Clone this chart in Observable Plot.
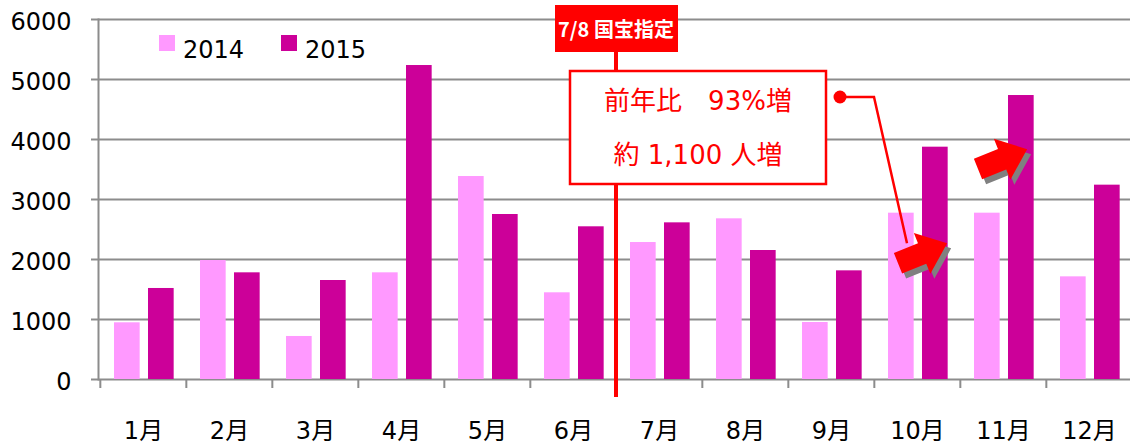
<!DOCTYPE html>
<html><head><meta charset="utf-8">
<script src="https://cdn.jsdelivr.net/npm/d3@7"></script>
<script src="https://cdn.jsdelivr.net/npm/@observablehq/plot@0.6"></script>
<style>
body{margin:0;background:#fff;}
#wrap{width:1130px;height:444px;}
</style></head><body><div id="wrap"></div>
<script>
// ---- data ----
const months = ["1月","2月","3月","4月","5月","6月","7月","8月","9月","10月","11月","12月"];
const seriesNames = ["2014","2015"];
const values2014 = [945,1983,717,1778,3383,1445,2283,2678,950,2772,2772,1711];
const values2015 = [1517,1778,1650,5233,2750,2545,2611,2150,1811,3872,4733,3239];
const yTicks = [0,1000,2000,3000,4000,5000,6000];
const colors = ["#ff99ff","#cc0099"];
const markerMonth = "7月";
const markerLabel = "7/8 国宝指定";
const noteLines = ["前年比\u300093%増","約 1,100 人増"];
const arrowMonths = ["10月","11月"];
const arrowValues = [1930,3500];
const arrowDx = [24,18];

// ---- build ----
const font = '"DejaVu Sans","Noto Sans CJK JP",sans-serif';
const rows2014 = months.map((m,i)=>({month:m, value:values2014[i]}));
const rows2015 = months.map((m,i)=>({month:m, value:values2015[i]}));
const xRange = [98,1134];
const step = (xRange[1]-xRange[0])/months.length;
const grid = "#8c8c8c";

const plot = Plot.plot({
  width:1130, height:444,
  marginTop:19, marginBottom:65, marginLeft:98, marginRight:0,
  style:{fontFamily:font, fontSize:"24px", color:"black", background:"white", overflow:"visible"},
  x:{type:"band", domain:months, range:xRange, padding:0, label:null},
  y:{domain:[0,6000], label:null},
  marks:[
    Plot.ruleY(yTicks,{stroke:grid, strokeWidth:2}),
    Plot.barY(rows2014,{x:"month", y:"value", fill:colors[0], insetLeft:14, insetRight:step-40}),
    Plot.barY(rows2015,{x:"month", y:"value", fill:colors[1], insetLeft:48, insetRight:step-74}),
    Plot.frame({anchor:"left", stroke:grid, strokeWidth:2}),
    Plot.axisY(yTicks,{tickSize:7, tickFormat:()=>"", stroke:grid, strokeWidth:2, label:null}),
    Plot.axisY(yTicks,{tickSize:0, tickPadding:27, dy:3, fontSize:24, fill:"black", tickFormat:d=>String(d), label:null}),
    Plot.axisX({tickSize:9, tickFormat:()=>"", stroke:grid, strokeWidth:2, dx:-step/2, label:null}),
    Plot.axisX({tickSize:0, tickPadding:42, fontSize:24, fill:"black", label:null})
  ]
});
document.getElementById("wrap").appendChild(plot);

const xs = plot.scale("x"), ys = plot.scale("y");
const svg = d3.select(plot);
const g = svg.append("g").attr("font-family", font).attr("text-anchor","start");

// legend
seriesNames.forEach((s,i)=>{
  const lx = [159,281][i];
  g.append("rect").attr("x",lx).attr("y",35).attr("width",16).attr("height",16).attr("fill",colors[i]);
  g.append("text").attr("x",lx+24).attr("y",58).attr("text-anchor","start").attr("font-size",24).attr("fill","black").text(s);
});

// marker line
const lineX = xs.apply(markerMonth);
g.append("line").attr("x1",lineX).attr("x2",lineX).attr("y1",20).attr("y2",397)
  .attr("stroke","#ff0000").attr("stroke-width",4);
g.append("rect").attr("x",lineX-61).attr("y",5).attr("width",123).attr("height",47).attr("fill","#ff0000");
g.append("text").attr("x",lineX).attr("y",37).attr("text-anchor","middle")
  .attr("font-family",'"Noto Sans CJK JP",sans-serif').attr("font-weight","bold")
  .attr("font-size",20).attr("fill","white").text(markerLabel);

// note box
g.append("rect").attr("x",lineX-46).attr("y",71).attr("width",256).attr("height",113)
  .attr("fill","white").attr("stroke","#ff0000").attr("stroke-width",2.5);
noteLines.forEach((t,i)=>{
  g.append("text").attr("x",lineX+82).attr("y",[110,164][i]).attr("text-anchor","middle")
    .attr("font-size",26).attr("fill","#ff0000").text(t);
});

// arrows
const arrowPts = [[0,-11],[26,-11],[26,-22],[53,0],[26,22],[26,11],[0,11]];
const arrowPath = "M" + arrowPts.map(p=>p.join(",")).join("L") + "Z";
const tails = arrowMonths.map((m,i)=>[xs.apply(m)+arrowDx[i], ys.apply(arrowValues[i])]);

// leader
const knee = [xs.apply(arrowMonths[0]), ys.apply(4700)];
const dot = [knee[0]-34, knee[1]];
g.append("polyline").attr("points",[dot, knee, [tails[0][0]+9, tails[0][1]-20]].map(p=>p.join(",")).join(" "))
  .attr("fill","none").attr("stroke","#ff0000").attr("stroke-width",2.5);
g.append("circle").attr("cx",dot[0]).attr("cy",dot[1]).attr("r",6.5).attr("fill","#ff0000");

tails.forEach(t=>{
  g.append("path").attr("d",arrowPath).attr("fill","#808080")
    .attr("transform",`translate(${t[0]+4},${t[1]+5}) rotate(-22)`);
  g.append("path").attr("d",arrowPath).attr("fill","#ff0000")
    .attr("transform",`translate(${t[0]},${t[1]}) rotate(-22)`);
});
</script></body></html>
